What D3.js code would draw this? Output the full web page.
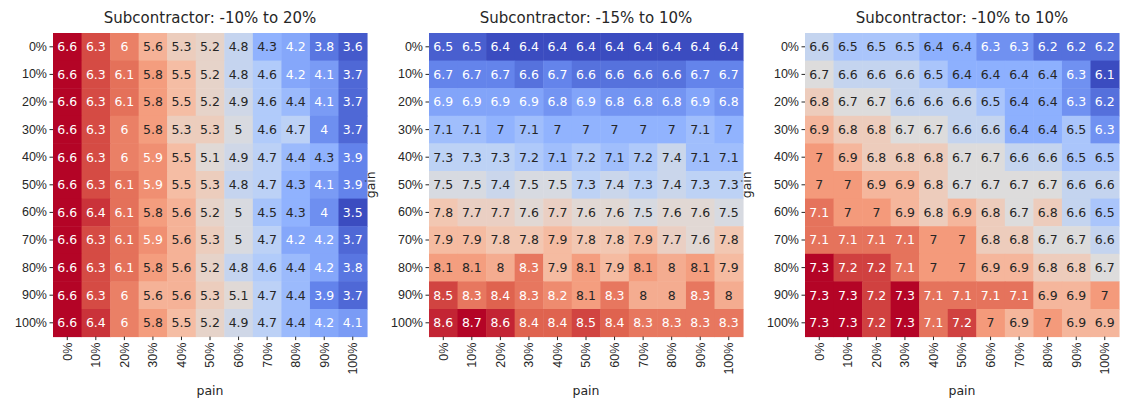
<!DOCTYPE html>
<html lang="en">
<head>
    <meta charset="UTF-8">
    <script src="https://d3js.org/d3.v7.min.js"></script>
    <style>
        body { margin: 0; background: #fff; font-family: "DejaVu Sans", sans-serif; }
        .axis path.domain { display: none; }
        .axis text { font-size: 12.5px; fill: #262626; }
        .axis line { stroke: #262626; }
    </style>
</head>
<body>
<div id="chart"></div>
<script>
    // categories (pain on x, gain on y)
    const pains = ["0%", "10%", "20%", "30%", "40%", "50%", "60%", "70%", "80%", "90%", "100%"];
    const gains = ["0%", "10%", "20%", "30%", "40%", "50%", "60%", "70%", "80%", "90%", "100%"];

    const titles = ["Subcontractor: -10% to 20%", "Subcontractor: -15% to 10%", "Subcontractor: -10% to 10%"];

    // one row per gain level
    const grid1 = [
        [6.6, 6.3, 6.0, 5.6, 5.3, 5.2, 4.8, 4.3, 4.2, 3.8, 3.6],
        [6.6, 6.3, 6.1, 5.8, 5.5, 5.2, 4.8, 4.6, 4.2, 4.1, 3.7],
        [6.6, 6.3, 6.1, 5.8, 5.5, 5.2, 4.9, 4.6, 4.4, 4.1, 3.7],
        [6.6, 6.3, 6.0, 5.8, 5.3, 5.3, 5.0, 4.6, 4.7, 4.0, 3.7],
        [6.6, 6.3, 6.0, 5.9, 5.5, 5.1, 4.9, 4.7, 4.4, 4.3, 3.9],
        [6.6, 6.3, 6.1, 5.9, 5.5, 5.3, 4.8, 4.7, 4.3, 4.1, 3.9],
        [6.6, 6.4, 6.1, 5.8, 5.6, 5.2, 5.0, 4.5, 4.3, 4.0, 3.5],
        [6.6, 6.3, 6.1, 5.9, 5.6, 5.3, 5.0, 4.7, 4.2, 4.2, 3.7],
        [6.6, 6.3, 6.1, 5.8, 5.6, 5.2, 4.8, 4.6, 4.4, 4.2, 3.8],
        [6.6, 6.3, 6.0, 5.6, 5.6, 5.3, 5.1, 4.7, 4.4, 3.9, 3.7],
        [6.6, 6.4, 6.0, 5.8, 5.5, 5.2, 4.9, 4.7, 4.4, 4.2, 4.1]
    ];
    const grid2 = [
        [6.5, 6.5, 6.4, 6.4, 6.4, 6.4, 6.4, 6.4, 6.4, 6.4, 6.4],
        [6.7, 6.7, 6.7, 6.6, 6.7, 6.6, 6.6, 6.6, 6.6, 6.7, 6.7],
        [6.9, 6.9, 6.9, 6.9, 6.8, 6.9, 6.8, 6.8, 6.8, 6.9, 6.8],
        [7.1, 7.1, 7.0, 7.1, 7.0, 7.0, 7.0, 7.0, 7.0, 7.1, 7.0],
        [7.3, 7.3, 7.3, 7.2, 7.1, 7.2, 7.1, 7.2, 7.4, 7.1, 7.1],
        [7.5, 7.5, 7.4, 7.5, 7.5, 7.3, 7.4, 7.3, 7.4, 7.3, 7.3],
        [7.8, 7.7, 7.7, 7.6, 7.7, 7.6, 7.6, 7.5, 7.6, 7.6, 7.5],
        [7.9, 7.9, 7.8, 7.8, 7.9, 7.8, 7.8, 7.9, 7.7, 7.6, 7.8],
        [8.1, 8.1, 8.0, 8.3, 7.9, 8.1, 7.9, 8.1, 8.0, 8.1, 7.9],
        [8.5, 8.3, 8.4, 8.3, 8.2, 8.1, 8.3, 8.0, 8.0, 8.3, 8.0],
        [8.6, 8.7, 8.6, 8.4, 8.4, 8.5, 8.4, 8.3, 8.3, 8.3, 8.3]
    ];
    const grid3 = [
        [6.6, 6.5, 6.5, 6.5, 6.4, 6.4, 6.3, 6.3, 6.2, 6.2, 6.2],
        [6.7, 6.6, 6.6, 6.6, 6.5, 6.4, 6.4, 6.4, 6.4, 6.3, 6.1],
        [6.8, 6.7, 6.7, 6.6, 6.6, 6.6, 6.5, 6.4, 6.4, 6.3, 6.2],
        [6.9, 6.8, 6.8, 6.7, 6.7, 6.6, 6.6, 6.4, 6.4, 6.5, 6.3],
        [7.0, 6.9, 6.8, 6.8, 6.8, 6.7, 6.7, 6.6, 6.6, 6.5, 6.5],
        [7.0, 7.0, 6.9, 6.9, 6.8, 6.7, 6.7, 6.7, 6.7, 6.6, 6.6],
        [7.1, 7.0, 7.0, 6.9, 6.8, 6.9, 6.8, 6.7, 6.8, 6.6, 6.5],
        [7.1, 7.1, 7.1, 7.1, 7.0, 7.0, 6.8, 6.8, 6.7, 6.7, 6.6],
        [7.3, 7.2, 7.2, 7.1, 7.0, 7.0, 6.9, 6.9, 6.8, 6.8, 6.7],
        [7.3, 7.3, 7.2, 7.3, 7.1, 7.1, 7.1, 7.1, 6.9, 6.9, 7.0],
        [7.3, 7.3, 7.2, 7.3, 7.1, 7.2, 7.0, 6.9, 7.0, 6.9, 6.9]
    ];

    // coolwarm colormap sampled at 9 stops
    const coolwarm = ["#3b4cc0", "#6282ea", "#8db0fe", "#b8d0f9", "#dddcdc", "#f5c4ac", "#f49a7b", "#de604d", "#b40426"];

    const W = 1127, H = 401;
    const cellW = 28.55, cellH = 27.6;
    const plotW = cellW * pains.length, plotH = cellH * gains.length;
    const lefts = [53, 429, 805];
    const plotTop = 33;

    const svg = d3.select("#chart").append("svg")
        .attr("width", W)
        .attr("height", H);

    // relative luminance as matplotlib/seaborn computes it
    function luminance(c) {
        const rgb = d3.rgb(c);
        const lin = v => {
            v = v / 255;
            return v <= 0.03928 ? v / 12.92 : Math.pow((v + 0.055) / 1.055, 2.4);
        };
        return 0.2126 * lin(rgb.r) + 0.7152 * lin(rgb.g) + 0.0722 * lin(rgb.b);
    }

    function drawHeatmap(left, values, title, showGain) {
        const g = svg.append("g").attr("transform", `translate(${left},${plotTop})`);

        const x = d3.scaleBand().domain(pains).range([0, plotW]);
        const y = d3.scaleBand().domain(gains).range([0, plotH]);

        const flat = values.flat();
        const vmin = d3.min(flat), vmax = d3.max(flat);
        const color = d3.scaleLinear()
            .domain(coolwarm.map((c, i) => vmin + (vmax - vmin) * i / (coolwarm.length - 1)))
            .range(coolwarm)
            .interpolate(d3.interpolateRgb);

        const cells = [];
        values.forEach((row, i) => row.forEach((v, j) => cells.push({gain: gains[i], pain: pains[j], v: v})));

        g.selectAll("rect.cell")
            .data(cells)
            .enter()
            .append("rect")
            .attr("class", "cell")
            .attr("x", d => x(d.pain))
            .attr("y", d => y(d.gain))
            .attr("width", x.bandwidth() + 0.5)
            .attr("height", y.bandwidth() + 0.5)
            .attr("fill", d => color(d.v));

        g.selectAll("text.annot")
            .data(cells)
            .enter()
            .append("text")
            .attr("class", "annot")
            .attr("x", d => x(d.pain) + x.bandwidth() / 2)
            .attr("y", d => y(d.gain) + y.bandwidth() / 2)
            .attr("text-anchor", "middle")
            .attr("dy", "0.35em")
            .style("font-size", "12.5px")
            .style("fill", d => luminance(color(d.v)) > 0.408 ? "#262626" : "#ffffff")
            .text(d => d3.format("~g")(d.v));

        // y axis (gain)
        g.append("g")
            .attr("class", "axis")
            .call(d3.axisLeft(y).tickSize(3.5).tickPadding(2.5));

        // x axis (pain), labels rotated
        g.append("g")
            .attr("class", "axis")
            .attr("transform", `translate(0,${plotH})`)
            .call(d3.axisBottom(x).tickSize(3.5).tickPadding(2.5))
            .selectAll("text")
            .attr("transform", "rotate(-90)")
            .attr("text-anchor", "end")
            .attr("x", -6)
            .attr("y", 0)
            .attr("dy", "0.35em");

        // title
        g.append("text")
            .attr("x", plotW / 2)
            .attr("y", -10)
            .attr("text-anchor", "middle")
            .style("font-size", "15px")
            .style("fill", "#262626")
            .text(title);

        // x label
        g.append("text")
            .attr("x", plotW / 2)
            .attr("y", 362)
            .attr("text-anchor", "middle")
            .style("font-size", "12.5px")
            .style("fill", "#262626")
            .text("pain");

        // y label on the right side (the last one falls outside the picture in the original)
        if (showGain) {
            g.append("text")
                .attr("transform", `translate(${plotW + 8},${plotH / 2}) rotate(-90)`)
                .attr("text-anchor", "middle")
                .style("font-size", "12.5px")
                .style("fill", "#262626")
                .text("gain");
        }
    }

    drawHeatmap(lefts[0], grid1, titles[0], true);
    drawHeatmap(lefts[1], grid2, titles[1], true);
    drawHeatmap(lefts[2], grid3, titles[2], false);
</script>
</body>
</html>
